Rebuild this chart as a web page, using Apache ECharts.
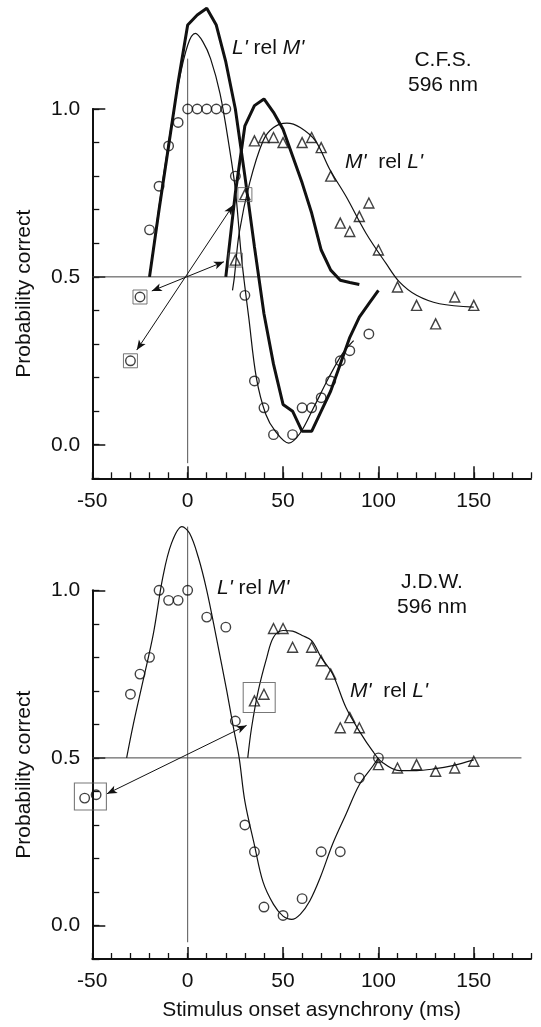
<!DOCTYPE html>
<html><head><meta charset="utf-8">
<script src="https://cdn.jsdelivr.net/npm/echarts@6/dist/echarts.min.js"></script>
<style>html,body{margin:0;padding:0;background:#fff}#c{width:541px;height:1027px}</style>
</head><body><div id="c"></div>
<script>
// ---------- tick labels ----------
const xMajorTicks = [-50, 0, 50, 100, 150];
const yMajorTicks = [0, 0.5, 1.0];

// ---------- top panel (C.F.S.) ----------
const topCircles = [[-20,0.64],[-15,0.77],[-10,0.89],[-5,0.96],[0,1],[5,1],[10,1],[15,1],[20,1],[25,0.80],[30,0.445],[35,0.19],[40,0.11],[45,0.03],[55,0.03],[60,0.11],[65,0.11],[70,0.14],[75,0.19],[80,0.25],[85,0.28],[95,0.33]];
const topBoxedCircles = [[-25,0.44],[-30,0.25]];
const topTriangles = [[35,0.905],[40,0.915],[45,0.915],[50,0.90],[60,0.90],[65,0.915],[70,0.885],[75,0.80],[80,0.66],[85,0.635],[90,0.68],[95,0.72],[100,0.58],[110,0.47],[120,0.415],[130,0.36],[140,0.44],[150,0.415]];
const topBoxedTriangles = [[25,0.55],[30,0.745]];
const topThickLM = [[-20,0.50],[-15,0.70],[-10,0.89],[-5,1.08],[0,1.25],[5,1.28],[10,1.30],[15,1.25],[20,1.14],[25,1.00],[30,0.80],[35,0.59],[40,0.39],[45,0.24],[50,0.12],[55,0.10],[60,0.04],[65,0.04],[70,0.10],[75,0.16],[80,0.24],[85,0.32],[90,0.38],[95,0.42],[100,0.46]];
const topThickML = [[20,0.50],[25,0.75],[30,0.95],[35,1.01],[40,1.03],[45,0.99],[50,0.94],[55,0.86],[60,0.78],[65,0.69],[70,0.58],[75,0.52],[80,0.49],[85,0.483],[90,0.477]];
const topFitLM = [[-20,0.50],[-15,0.71],[-10,0.90],[-5,1.07],[0,1.19],[4,1.225],[8,1.20],[12,1.15],[17,1.045],[22,0.88],[25,0.76],[28,0.57],[30,0.47],[32,0.38],[36,0.20],[41,0.09],[46,0.04],[53,0.005],[59,0.035],[66,0.11],[74,0.20],[81,0.27],[87,0.31]];
const topFitML = [[23.5,0.46],[24.5,0.50],[27,0.63],[32.5,0.78],[39.5,0.905],[45,0.945],[52,0.958],[59,0.945],[67,0.905],[74.5,0.82],[83,0.74],[93.5,0.63],[104,0.54],[111,0.485],[120,0.445],[132,0.42],[150,0.41]];
const topArrows = [[[-18.8,0.458],[19,0.545]], [[-26.7,0.282],[23.9,0.714]]];
const topVLine = [[0,-0.055],[0,1.15]];
const topHLine = [[-50,0.5],[175,0.5]];

// ---------- bottom panel (J.D.W.) ----------
const botCircles = [[-30,0.69],[-25,0.75],[-20,0.80],[-15,1.0],[-10,0.97],[-5,0.97],[0,1.0],[10,0.92],[20,0.89],[25,0.61],[30,0.30],[35,0.22],[40,0.055],[50,0.03],[60,0.08],[70,0.22],[80,0.22],[90,0.44],[100,0.50]];
const botBoxedCircles = [[-54,0.38],[-48,0.39]];
const botTriangles = [[45,0.886],[50,0.886],[55,0.83],[65,0.83],[70,0.79],[75,0.75],[80,0.59],[85,0.62],[90,0.59],[100,0.48],[110,0.47],[120,0.48],[130,0.46],[140,0.47],[150,0.49]];
const botBoxedTriangles = [[35,0.67],[40,0.69]];
const botFitLM = [[-32,0.50],[-28.5,0.60],[-23,0.74],[-18,0.87],[-13,1.04],[-8.5,1.14],[-3,1.19],[1,1.17],[5.5,1.10],[10,1.0],[15,0.86],[20.5,0.70],[24,0.59],[27,0.50],[30,0.37],[35,0.24],[39.5,0.13],[45,0.063],[50,0.028],[54.5,0.018],[59,0.033],[64,0.073],[69.5,0.143],[76,0.243],[83,0.332],[90,0.42],[97,0.475],[100,0.50]];
const botFitML = [[31.5,0.50],[33.5,0.59],[37,0.70],[41.5,0.80],[45,0.86],[50,0.88],[55,0.878],[60,0.865],[65,0.85],[70,0.80],[76,0.75],[83,0.65],[90,0.58],[97,0.52],[102,0.487],[111,0.462],[120,0.462],[129,0.467],[139,0.477],[150,0.494]];
const botArrows = [[[-42.3,0.393],[30.9,0.597]]];
const botVLine = [[0,-0.05],[0,1.19]];
const botHLine = [[-50,0.5],[175,0.5]];

// ---------- build ----------
const FONT = 'Liberation Sans, Arial, Helvetica, sans-serif';
const BLACK = '#111';
const grids = [
  {left: 92.3, right: 10, top: 109, height: 369.3},
  {left: 92.3, right: 10, top: 590.3, height: 368.7}
];
const xAxes = [], yAxes = [];
grids.forEach((g, gi) => {
  xAxes.push({
    type: 'value', gridIndex: gi, min: -50, max: 180, position: 'bottom',
    axisLine: {show: true, onZero: false, lineStyle: {color: BLACK, width: 2}},
    axisTick: {show: true, inside: true, length: 12, customValues: xMajorTicks, lineStyle: {color: BLACK, width: 1.5}},
    axisLabel: {customValues: xMajorTicks, color: BLACK, fontSize: 21, fontFamily: FONT, margin: 12},
    splitLine: {show: false},
    name: gi === 1 ? 'Stimulus onset asynchrony (ms)' : '',
    nameLocation: 'middle', nameGap: 41,
    nameTextStyle: {color: BLACK, fontSize: 21, fontFamily: FONT}
  });
  xAxes.push({
    type: 'value', gridIndex: gi, min: -50, max: 180, interval: 10, position: 'bottom',
    axisLine: {show: false, onZero: false},
    axisTick: {show: true, inside: true, length: 6, lineStyle: {color: BLACK, width: 1.3}},
    axisLabel: {show: false}, splitLine: {show: false}
  });
  yAxes.push({
    type: 'value', gridIndex: gi, min: -0.1, max: 1.0, position: 'left',
    axisLine: {show: true, onZero: false, lineStyle: {color: BLACK, width: 2}},
    axisTick: {show: true, inside: true, length: 13, customValues: yMajorTicks, lineStyle: {color: BLACK, width: 1.5}},
    axisLabel: {customValues: yMajorTicks, formatter: v => Number(v).toFixed(1), color: BLACK, fontSize: 21, fontFamily: FONT, margin: 12},
    splitLine: {show: false},
    name: 'Probability correct', nameLocation: 'middle', nameGap: 58,
    nameTextStyle: {color: BLACK, fontSize: 21, fontFamily: FONT}
  });
  yAxes.push({
    type: 'value', gridIndex: gi, min: -0.1, max: 1.0, interval: 0.1, position: 'left',
    axisLine: {show: false, onZero: false},
    axisTick: {show: true, inside: true, length: 7, lineStyle: {color: BLACK, width: 1.3}},
    axisLabel: {show: false}, splitLine: {show: false}
  });
});

const series = [];
function ax(gi) { return {xAxisIndex: gi * 2, yAxisIndex: gi * 2}; }
function addLine(data, gi, width, smooth, color) {
  series.push(Object.assign({
    type: 'line', data: data, showSymbol: false, symbol: 'none', smooth: smooth ? 0.35 : false,
    clip: false, silent: true, z: 2,
    lineStyle: {color: color || BLACK, width: width}
  }, ax(gi)));
}
function addPts(data, gi, sym, size) {
  series.push(Object.assign({
    type: 'scatter', data: data, symbol: sym, symbolSize: size, clip: false, silent: true, z: 4,
    itemStyle: {color: 'rgba(0,0,0,0)', borderColor: BLACK, borderWidth: 1.4}
  }, ax(gi)));
}
function addBoxes(data, gi, size) {
  series.push(Object.assign({
    type: 'scatter', data: data, symbol: 'rect', symbolSize: size, clip: false, silent: true, z: 3,
    itemStyle: {color: 'rgba(0,0,0,0)', borderColor: '#555', borderWidth: 1}
  }, ax(gi)));
}
function addArrows(arrs, gi) {
  series.push(Object.assign({
    type: 'line', data: [], silent: true, z: 3,
    markLine: {
      silent: true, animation: false, symbol: ['arrow', 'arrow'], symbolSize: [6, 10],
      lineStyle: {color: BLACK, width: 1, type: 'solid'}, label: {show: false},
      emphasis: {disabled: true},
      data: arrs.map(a => [{coord: a[0]}, {coord: a[1]}])
    }
  }, ax(gi)));
}
function mid(pair) { return [[(pair[0][0] + pair[1][0]) / 2, (pair[0][1] + pair[1][1]) / 2]]; }

// top
addLine(topVLine, 0, 1, false, '#555');
addLine(topHLine, 0, 1, false, '#444');
addLine(topThickLM, 0, 3, false);
addLine(topThickML, 0, 3, false);
addLine(topFitLM, 0, 1.2, true);
addLine(topFitML, 0, 1.2, true);
addArrows(topArrows, 0);
addBoxes(topBoxedCircles, 0, 14);
addBoxes(topBoxedTriangles, 0, 14);
addPts(topCircles.concat(topBoxedCircles), 0, 'circle', 9.5);
addPts(topTriangles.concat(topBoxedTriangles), 0, 'triangle', 10);
// bottom
addLine(botVLine, 1, 1, false, '#555');
addLine(botHLine, 1, 1, false, '#444');
addLine(botFitLM, 1, 1.2, true);
addLine(botFitML, 1, 1.2, true);
addArrows(botArrows, 1);
addBoxes(mid(botBoxedCircles), 1, [32, 27]);
addBoxes(mid(botBoxedTriangles), 1, [32, 30]);
addPts(botCircles.concat(botBoxedCircles), 1, 'circle', 9.5);
addPts(botTriangles.concat(botBoxedTriangles), 1, 'triangle', 10);

function label(x, y, text, align, rich) {
  const st = {x: x, y: y, text: text, fill: BLACK, font: '21px ' + FONT, textAlign: align || 'left', textVerticalAlign: 'middle'};
  if (rich) st.rich = {i: {fontStyle: 'italic', fontSize: 21, fontFamily: FONT, fill: BLACK, color: BLACK}};
  return {type: 'text', z: 10, style: st};
}
const graphics = [
  label(232, 48, "{i|L'} rel {i|M'}", 'left', true),
  label(443, 60, 'C.F.S.', 'center'),
  label(443, 85, '596 nm', 'center'),
  label(345, 162, "{i|M'}  rel {i|L'}", 'left', true),
  label(217, 588, "{i|L'} rel {i|M'}", 'left', true),
  label(432, 582, 'J.D.W.', 'center'),
  label(432, 607, '596 nm', 'center'),
  label(350, 691, "{i|M'}  rel {i|L'}", 'left', true)
];

const chart = echarts.init(document.getElementById('c'), null, {renderer: 'canvas'});
chart.setOption({
  animation: false,
  backgroundColor: '#fff',
  grid: grids,
  xAxis: xAxes,
  yAxis: yAxes,
  series: series,
  graphic: graphics
});
</script></body></html>
